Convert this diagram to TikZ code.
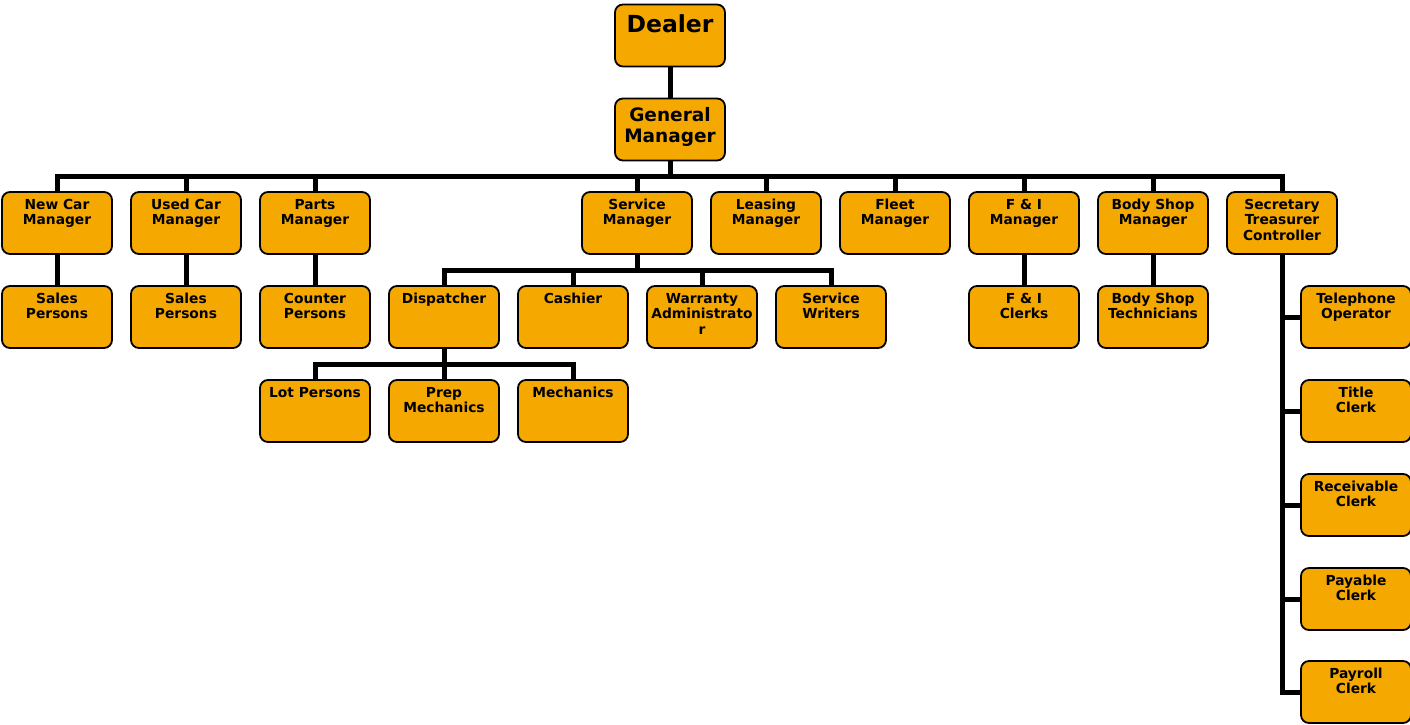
\documentclass[tikz,border=0pt]{standalone}
\usepackage{fontspec}
\setmainfont{DejaVu Sans}
\definecolor{boxfill}{RGB}{245,169,0}
\newcommand{\bt}[2][11pt]{\parbox[c][50pt][t]{106pt}{\centering\rule{0pt}{#1}#2}}
\tikzset{
  box/.style={draw=black, line width=1.8pt, fill=boxfill, rounded corners=8pt,
    inner xsep=2pt, inner ysep=6pt, minimum width=110pt, minimum height=62pt,
    font=\bfseries\fontsize{13.8}{15.7}\selectfont, text=black},
  conn/.style={draw=black, line width=5pt}
}
\begin{document}
\begin{tikzpicture}[x=1pt,y=-1pt]
\useasboundingbox (0,0) rectangle (1410,724);
% top
\node[box, font=\bfseries\fontsize{23.5}{27}\selectfont] (dealer) at (670,35.5) {\bt[21.7pt]{Dealer}};
\node[box, font=\bfseries\fontsize{18.5}{21}\selectfont] (gm) at (670,129.5) {\bt[16.7pt]{General\\Manager}};
% row 1
\node[box] (ncm) at (57,223) {\bt{New Car\\Manager}};
\node[box] (ucm) at (186,223) {\bt{Used Car\\Manager}};
\node[box] (pm) at (315,223) {\bt{Parts\\Manager}};
\node[box] (sm) at (637,223) {\bt{Service\\Manager}};
\node[box] (lm) at (766,223) {\bt{Leasing\\Manager}};
\node[box] (fm) at (895,223) {\bt{Fleet\\Manager}};
\node[box] (fim) at (1024,223) {\bt{F \& I\\Manager}};
\node[box] (bsm) at (1153,223) {\bt{Body Shop\\Manager}};
\node[box] (stc) at (1282,223) {\bt{Secretary\\Treasurer\\Controller}};
% row 2
\node[box] (sp1) at (57,317) {\bt{Sales\\Persons}};
\node[box] (sp2) at (186,317) {\bt{Sales\\Persons}};
\node[box] (cp) at (315,317) {\bt{Counter\\Persons}};
\node[box] (disp) at (444,317) {\bt{Dispatcher}};
\node[box] (cash) at (573,317) {\bt{Cashier}};
\node[box] (warr) at (702,317) {\bt{Warranty\\Administrato\\r}};
\node[box] (sw) at (831,317) {\bt{Service\\Writers}};
\node[box] (fic) at (1024,317) {\bt{F \& I\\Clerks}};
\node[box] (bst) at (1153,317) {\bt{Body Shop\\Technicians}};
% row 3
\node[box] (lot) at (315,411) {\bt{Lot Persons}};
\node[box] (prep) at (444,411) {\bt{Prep\\Mechanics}};
\node[box] (mech) at (573,411) {\bt{Mechanics}};
% right column
\node[box] (tel) at (1356,317) {\bt{Telephone\\Operator}};
\node[box] (tit) at (1356,411) {\bt{Title\\Clerk}};
\node[box] (rec) at (1356,505) {\bt{Receivable\\Clerk}};
\node[box] (pay) at (1356,599) {\bt{Payable\\Clerk}};
\node[box] (prl) at (1356,692) {\bt{Payroll\\Clerk}};
% connectors
\draw[conn] (dealer) -- (gm);
\foreach \c in {ncm,ucm,pm,sm,lm,fm,fim,bsm,stc}
  \draw[conn] (gm.south) -- ++(0,15) -| (\c.north);
\draw[conn] (ncm) -- (sp1);
\draw[conn] (ucm) -- (sp2);
\draw[conn] (pm) -- (cp);
\draw[conn] (fim) -- (fic);
\draw[conn] (bsm) -- (bst);
\foreach \c in {disp,cash,warr,sw}
  \draw[conn] (sm.south) -- ++(0,16) -| (\c.north);
\foreach \c in {lot,prep,mech}
  \draw[conn] (disp.south) -- ++(0,16) -| (\c.north);
\foreach \c in {tel,tit,rec,pay,prl}
  \draw[conn] (stc.south) |- (\c.west);
\end{tikzpicture}
\end{document}
